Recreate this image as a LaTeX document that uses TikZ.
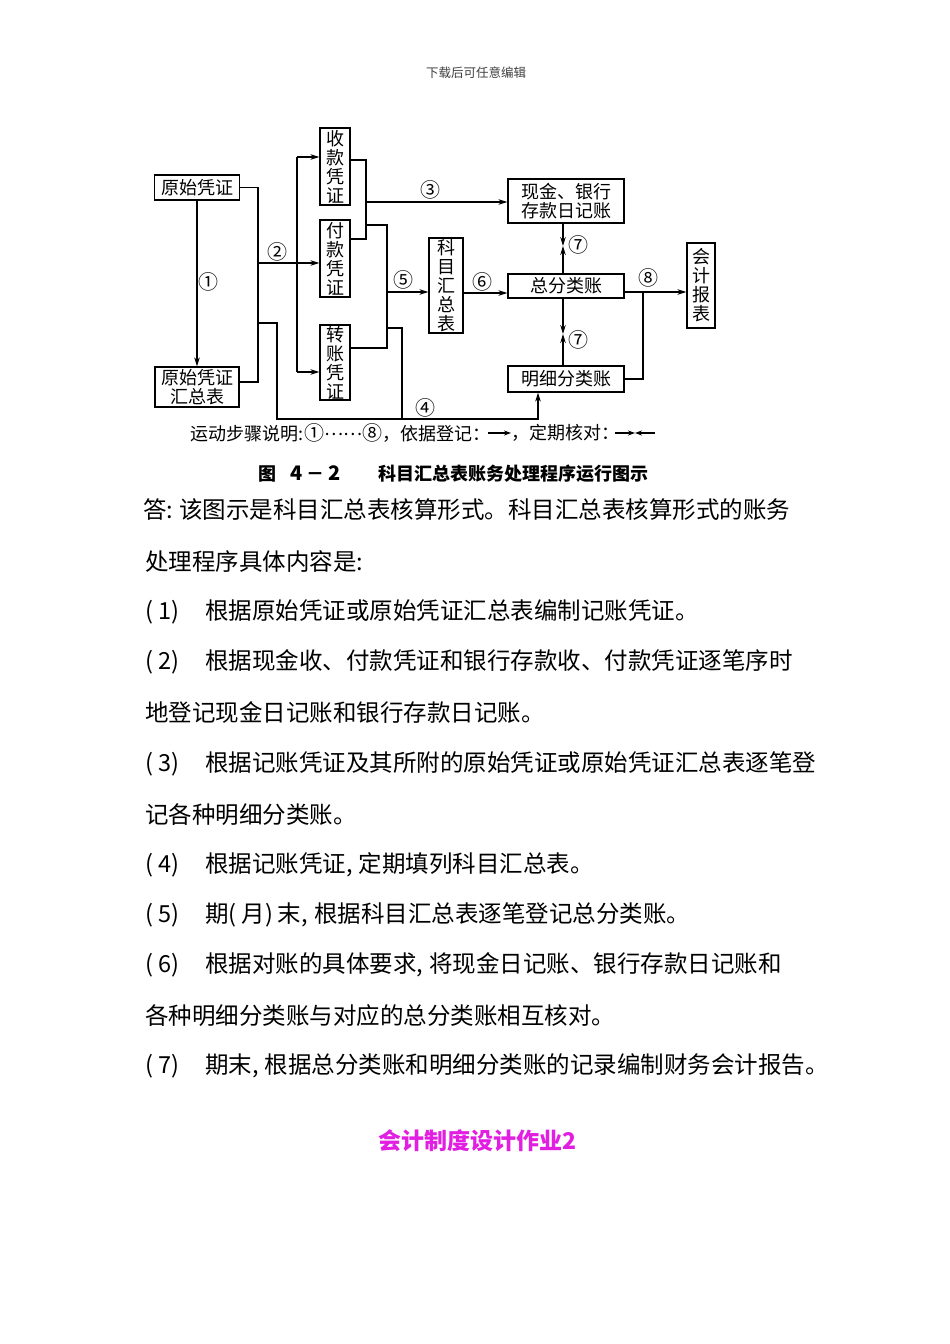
\documentclass[tikz,border=0pt]{standalone}
\usepackage{fontspec}
\setmainfont{Noto Sans CJK SC}
\usetikzlibrary{arrows.meta}
\definecolor{mag}{RGB}{225,30,225}
\newcommand{\pnum}[1]{(\kern5pt#1)\kern26pt}
\begin{document}
\begin{tikzpicture}[x=1pt,y=-1pt,
  box/.style={draw,line width=1.2pt,inner sep=0pt,align=center,font=\fontsize{18}{19}\selectfont},
  ln/.style={line width=1.2pt},
  arr/.style={ln,-{Stealth[length=9pt,width=5.5pt]}},
  arrsm/.style={line width=1.1pt,-{Stealth[length=7pt,width=5pt]}},
  num/.style={font=\fontsize{20}{20}\selectfont,inner sep=0pt},
  body/.style={anchor=west,inner sep=0pt,font=\fontsize{23.5}{24}\selectfont}]
\fill[white] (0,0) rectangle (950,1344);
\useasboundingbox (0,0) rectangle (950,1344);

% header
\node[font=\fontsize{12.5}{13}\selectfont,text=black!75,inner sep=0pt] (hdr) at (476,73) {下载后可任意编辑};

% boxes
\node[box,minimum width=85pt,minimum height=25pt] (yspz) at (197,187.5) {原始凭证};
\node[box,minimum width=84pt,minimum height=40pt] (yshz) at (197,387) {原始凭证\\汇总表};
\node[box,minimum width=30pt,minimum height=77pt] (sk) at (335,166.5) {收\\款\\凭\\证};
\node[box,minimum width=30pt,minimum height=77pt] (fk) at (335,258.5) {付\\款\\凭\\证};
\node[box,minimum width=30pt,minimum height=75pt] (zz) at (335,362.5) {转\\账\\凭\\证};
\node[box,minimum width=34pt,minimum height=95pt] (km) at (446,285.5) {科\\目\\汇\\总\\表};
\node[box,minimum width=116pt,minimum height=44pt] (xj) at (566,201) {现金、银行\\存款日记账};
\node[box,minimum width=116pt,minimum height=24pt] (zfl) at (566,286) {总分类账};
\node[box,minimum width=116pt,minimum height=26pt] (mx) at (566,379) {明细分类账};
\node[box,minimum width=28pt,minimum height=85pt] (bb) at (701,285.5) {会\\计\\报\\表};

% junction coordinates
\coordinate (j2) at (258,382);
\coordinate (j3) at (258,263);
\coordinate (j4) at (297,157);
\coordinate (j5) at (297,372);
\coordinate (j6) at (258,323);
\coordinate (j7) at (277,419);
\coordinate (j8) at (538,419);
\coordinate (k1) at (366,160);
\coordinate (k2) at (366,239);
\coordinate (k3) at (366,202);
\coordinate (k4) at (366,225);
\coordinate (k5) at (387,348);
\coordinate (k6) at (387,292);
\coordinate (k7) at (387,328);
\coordinate (k8) at (402,419);
\coordinate (m6) at (466,293);
\coordinate (m8) at (643,292);
\coordinate (s1) at (563,246);
\coordinate (s2) at (563,334);

% (1)
\draw[arr] (yspz.south) -- (yshz.north);
% original vouchers to (2)
\draw[ln] (yspz.east) -| (j2) -- (yshz.east |- j2);
\draw[ln] (j3) -- (j3 -| j4);
\draw[ln] (j4) -- (j5);
\draw[arr] (j4) -- (sk.west |- j4);
\draw[arr] (j3 -| j4) -- (fk.west |- j3);
\draw[arr] (j5) -- (zz.west |- j5);
% (4)
\draw[arr] (j6) -| (j7) -- (j8) -- (mx.south -| j8);
% (3)
\draw[ln] (sk.east |- k1) -- (k1) -- (k2) -- (fk.east |- k2);
\draw[arr] (k3) -- (xj.west |- k3);
% (5)
\draw[ln] (k4) -| (k5) -- (zz.east |- k5);
\draw[arr] (k6) -- (km.west |- k6);
\draw[ln] (k7) -| (k8);
% (6)
\draw[arr] (km.east |- m6) -- (zfl.west |- m6);
% (7)
\draw[arr] (xj.south -| s1) -- (s1);
\draw[arr] (zfl.north -| s1) -- (s1);
\draw[arr] (zfl.south -| s2) -- (s2);
\draw[arr] (mx.north -| s2) -- (s2);
% (8)
\draw[arr] (zfl.east |- m8) -- (bb.west |- m8);
\draw[ln] (m8) |- (mx.east);

% step numbers
\node[num] (n1) at (208,282) {①};
\node[num] (n2) at (277,252) {②};
\node[num] (n3) at (430,190) {③};
\node[num] (n4) at (425,408) {④};
\node[num] (n5) at (403,280) {⑤};
\node[num] (n6) at (482,282) {⑥};
\node[num] (n7a) at (578,245) {⑦};
\node[num] (n7b) at (578,340) {⑦};
\node[num] (n8) at (648,278) {⑧};

% legend
\node[anchor=west,inner sep=0pt,font=\fontsize{18}{18}\selectfont] (leg1) at (190,433)
  {运动步骤说明:\kern1pt{\fontsize{20}{20}\selectfont ①}\raisebox{5pt}{……}{\fontsize{20}{20}\selectfont ⑧}，依据登记：};
\coordinate (la1) at (488,433);
\coordinate (la2) at (511,433);
\draw[arrsm] (la1) -- (la2);
\node[anchor=west,inner sep=0pt,font=\fontsize{18}{18}\selectfont] (leg2) at (511,433) {，定期核对：};
\coordinate (lb1) at (615,433);
\coordinate (lbm) at (635,433);
\coordinate (lb2) at (655,433);
\draw[arrsm] (lb1) -- (lbm);
\draw[arrsm] (lb2) -- (lbm);

% caption
\node[anchor=west,inner sep=0pt,font=\bfseries\fontsize{18}{18}\selectfont] (cap) at (258,474)
  {\makebox[32pt][l]{图}\makebox[16pt][l]{\fontsize{20}{20}\selectfont 4}\makebox[22pt][l]{－}\makebox[50pt][l]{\fontsize{20}{20}\selectfont 2}科目汇总表账务处理程序运行图示};

% body text
\node[body] (t1) at (143,510) {答:\kern6pt 该图示是科目汇总表核算形式。科目汇总表核算形式的账务};
\node[body] (t2) at (145,562) {处理程序具体内容是:};
\node[body] (t3) at (145,612) {\pnum{1}根据原始凭证或原始凭证汇总表编制记账凭证。};
\node[body] (t4) at (145,662) {\pnum{2}根据现金收、付款凭证和银行存款收、付款凭证逐笔序时};
\node[body] (t5) at (145,713) {地登记现金日记账和银行存款日记账。};
\node[body] (t6) at (145,764) {\pnum{3}根据记账凭证及其所附的原始凭证或原始凭证汇总表逐笔登};
\node[body] (t7) at (145,815) {记各种明细分类账。};
\node[body] (t8) at (145,865) {\pnum{4}根据记账凭证,\kern6pt 定期填列科目汇总表。};
\node[body] (t9) at (145,915) {\pnum{5}期(\kern5pt 月)\kern5pt 末,\kern6pt 根据科目汇总表逐笔登记总分类账。};
\node[body] (t10) at (145,965) {\pnum{6}根据对账的具体要求,\kern6pt 将现金日记账、银行存款日记账和};
\node[body] (t11) at (145,1016) {各种明细分类账与对应的总分类账相互核对。};
\node[body] (t12) at (145,1066) {\pnum{7}期末,\kern6pt 根据总分类账和明细分类账的记录编制财务会计报告。};

% title
\node[font=\bfseries\fontsize{23}{23}\selectfont,text=mag,inner sep=0pt] (ttl) at (477,1141) {会计制度设计作业2};
\end{tikzpicture}
\end{document}
